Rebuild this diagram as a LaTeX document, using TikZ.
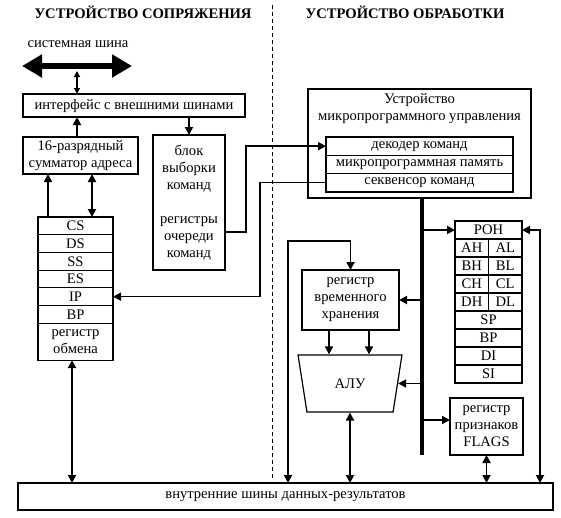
\documentclass[tikz,border=0pt]{standalone}
\usepackage{fontspec}
\setmainfont{Liberation Serif}
\usetikzlibrary{positioning,arrows.meta,shapes.geometric}

\begin{document}
\begin{tikzpicture}[x=1pt, y=-1pt, font=\fontsize{14.6}{17}\selectfont,
  box/.style={draw, line width=2.2pt, align=center, inner sep=1pt, outer sep=0pt, anchor=north west},
  cell/.style={draw, line width=1.2pt, inner sep=0pt, outer sep=0pt, minimum height=18pt, minimum width=75pt, align=center},
  half/.style={cell, minimum width=33.5pt, anchor=north west},
  arr/.style={line width=1.8pt, -{Triangle[length=8pt,width=8pt]}},
  darr/.style={line width=1.8pt, {Triangle[length=8pt,width=8pt]}-{Triangle[length=8pt,width=8pt]}}]
  \useasboundingbox (0,0) rectangle (561,517);

  % headings
  \node[font=\fontsize{14.6}{17}\selectfont\bfseries] (hBiu) at (143,12) {УСТРОЙСТВО СОПРЯЖЕНИЯ};
  \node[font=\fontsize{14.6}{17}\selectfont\bfseries] (hEu) at (405,12) {УСТРОЙСТВО ОБРАБОТКИ};
  \draw[line width=1pt, dash pattern=on 4pt off 3pt] (272,5) -- (272,479);

  \node[box, minimum width=535pt, minimum height=27pt] (bus) at (18,483) {внутренние шины данных-результатов};

  % bus interface unit
  \node (sysL) at (78,44) {системная шина};
  \coordinate (sysA) at (22,66);
  \coordinate (sysB) at (132,66);
  \coordinate (sysC) at (77,71);
  \draw[line width=6pt, {Triangle[length=20pt,width=22pt]}-{Triangle[length=20pt,width=22pt]}] (sysA) -- (sysB);
  \node[box, minimum width=222pt, minimum height=23pt] (iface) at (23,94) {интерфейс с внешними шинами};
  \node[box, minimum width=115pt, minimum height=37pt] (summ) at (23,137) {16-разрядный\\сумматор адреса};
  \node[box, minimum width=72pt, minimum height=135pt] (fetch) at (153,135) {блок\\выборки\\команд\\[17pt]регистры\\очереди\\команд};

  \node[cell, anchor=north west, minimum height=17.7pt] (sCS) at (38,217) {CS};
  \foreach \r/\p in {DS/CS, SS/DS, ES/SS, IP/ES, BP/IP}
    \node[cell, minimum height=17.7pt, below=0pt of s\p] (s\r) {\r};
  \node[cell, minimum height=37pt, below=0pt of sBP] (xchg) {регистр\\обмена};

  \coordinate (cs1) at (48,217);
  \coordinate (cs2) at (92,217);
  \coordinate (xb) at (72,360);
  \draw[line width=1.2pt, {Triangle[length=6pt,width=6pt]}-{Triangle[length=6pt,width=6pt]}] (sysC) -- (sysC |- iface.north);
  \draw[arr] (sysC |- summ.north) -- (sysC |- iface.south);
  \draw[arr] (fetch.north |- iface.south) -- (fetch.north);
  \draw[arr] (cs1) -- (cs1 |- summ.south);
  \draw[darr] (cs2) -- (cs2 |- summ.south);
  \draw[darr] (xb) -- (xb |- bus.north);

  % execution unit
  \node[box, line width=2.6pt, minimum width=223pt, minimum height=109pt] (mcu) at (308,89) {};
  \node[below=1pt of mcu.north, align=center] (mcuT) {Устройство\\микропрограммного управления};
  \node[cell, anchor=north west, minimum width=187pt, minimum height=18.3pt] (dec) at (326,137) {декодер команд};
  \node[cell, minimum width=187pt, minimum height=18.3pt, below=0pt of dec] (mem) {микропрограммная память};
  \node[cell, minimum width=187pt, minimum height=18.3pt, below=0pt of mem] (seq) {секвенсор команд};

  \draw[arr, line width=2pt] ([yshift=-29.5pt]fetch.east) -- ++(21,0) |- (dec.west);
  \draw[arr, line width=1.4pt] (seq.west) -- ++(-66,0) |- (sIP.east);

  \node[box, minimum width=97pt, minimum height=60pt] (tmp) at (302,270) {регистр\\временного\\хранения};
  \node[draw, line width=1.2pt, trapezium, trapezium stretches=true, shape border rotate=180,
    trapezium angle=72, minimum width=104pt, minimum height=57pt, inner sep=0pt] (alu) at (350,383.5) {АЛУ};
  \node[box, minimum width=73pt, minimum height=57pt] (flags) at (450,398) {регистр\\признаков\\FLAGS};

  \node[cell, anchor=north west, minimum width=67pt] (poh) at (455,221) {РОН};
  \foreach \r [count=\i] in {A,B,C,D} {
    \node[half] (\r H) at (455,{221+18*\i}) {\r H};
    \node[half] (\r L) at (488.5,{221+18*\i}) {\r L};
  }
  \foreach \r [count=\i from 5] in {SP,BP,DI,SI}
    \node[cell, anchor=north west, minimum width=67pt] (g\r) at (455,{221+18*\i}) {\r};

  \coordinate (trunk) at (422,455);
  \draw[line width=4.5pt] (trunk |- mcu.south) -- (trunk);
  \draw[arr] (trunk |- poh.west) -- (poh.west);
  \draw[arr] (trunk |- tmp.east) -- (tmp.east);
  \draw[arr] (trunk |- alu.east) -- (alu.east);
  \coordinate (fl) at ([yshift=6.5pt]flags.west);
  \draw[arr] (trunk |- fl) -- (fl);

  \coordinate (t1) at (329,330);
  \coordinate (t2) at (369,330);
  \draw[arr] (t1) -- (t1 |- alu.north);
  \draw[arr] (t2) -- (t2 |- alu.north);
  \draw[darr] (alu.south) -- (alu.south |- bus.north);
  \draw[darr] (flags.south) -- (flags.south |- bus.north);

  \coordinate (ret) at (540,0);
  \draw[darr] (poh.east) -| (ret |- bus.north);
  \coordinate (loop) at (288,241);
  \draw[darr] (tmp.north) |- (loop) -- (loop |- bus.north);
\end{tikzpicture}
\end{document}
